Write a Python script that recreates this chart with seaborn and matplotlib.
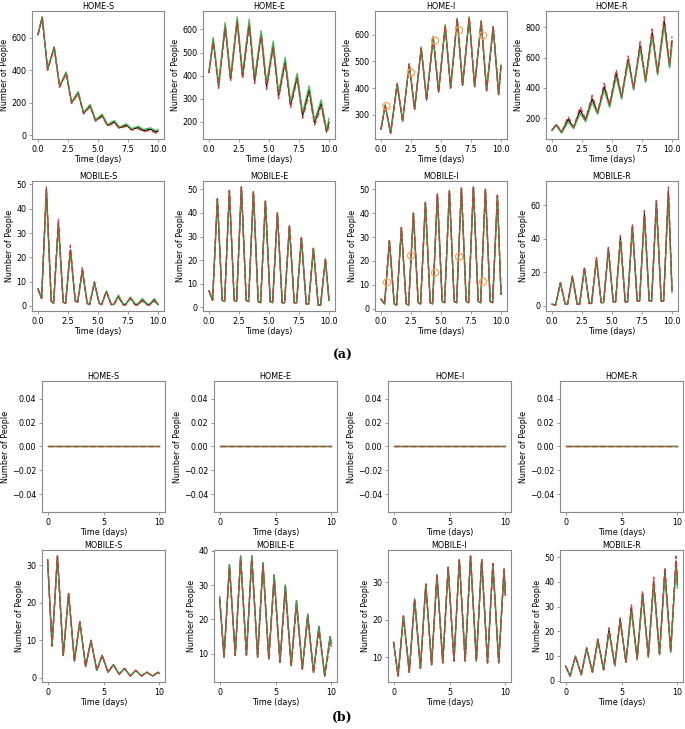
# SEIR-style HOME / MOBILE compartments, two scenarios (a) and (b)
import matplotlib
matplotlib.use("Agg")
import matplotlib.pyplot as plt
import seaborn as sns

# ---------------- data ----------------
# (a) home compartments: peaks / troughs
t_home_a = [0, 0.35, 0.8, 1.35, 1.8, 2.35, 2.8, 3.35, 3.8, 4.35, 4.8, 5.35, 5.8,
            6.35, 6.8, 7.35, 7.8, 8.35, 8.8, 9.35, 9.8, 10]

hs_k = [620, 728, 405, 542, 300, 385, 200, 262, 135, 182, 90, 122, 60, 82, 45, 62, 35, 47, 27, 37, 20, 25]
hs_g = [620, 730, 410, 545, 305, 390, 205, 270, 140, 190, 95, 130, 65, 90, 50, 70, 40, 55, 35, 45, 28, 35]
hs_r = [620, 725, 400, 540, 295, 380, 195, 255, 130, 175, 85, 115, 55, 75, 40, 55, 30, 40, 20, 30, 12, 15]

he_k = [415, 555, 355, 618, 385, 642, 398, 630, 378, 582, 352, 535, 312, 465, 272, 398, 228, 338, 195, 280, 158, 198]
he_g = [420, 565, 365, 630, 395, 655, 410, 645, 390, 595, 365, 550, 325, 480, 285, 410, 240, 355, 205, 295, 165, 215]
he_r = [410, 545, 345, 605, 375, 630, 385, 615, 365, 570, 340, 520, 300, 450, 260, 385, 215, 320, 185, 265, 150, 180]

hi_k = [245, 335, 230, 415, 275, 490, 320, 550, 355, 590, 385, 635, 400, 660, 410, 665, 405, 650, 390, 630, 375, 485]
hi_g = [245, 338, 230, 418, 275, 492, 322, 555, 358, 595, 390, 638, 403, 662, 412, 668, 408, 655, 395, 632, 378, 485]
hi_circ_t = [0.45, 2.5, 4.5, 6.5, 8.5]
hi_circ_v = [332, 458, 578, 617, 598]

hr_k = [120, 155, 105, 192, 135, 252, 185, 328, 232, 408, 280, 495, 335, 590, 392, 682, 445, 765, 495, 840, 542, 710]
hr_g = [120, 150, 100, 175, 130, 230, 175, 305, 225, 385, 270, 470, 325, 570, 385, 660, 435, 740, 485, 810, 530, 680]
hr_r = [120, 160, 110, 210, 140, 275, 195, 350, 240, 430, 290, 520, 345, 610, 400, 705, 455, 790, 505, 870, 555, 740]

# (a) mobile compartments: low / peak / low per day
t_mob_a = [0, 0.3, 0.7, 1.1, 1.3, 1.7, 2.1, 2.3, 2.7, 3.1, 3.3, 3.7, 4.1, 4.3, 4.7,
           5.1, 5.3, 5.7, 6.1, 6.3, 6.7, 7.1, 7.3, 7.7, 8.1, 8.3, 8.7, 9.1, 9.3, 9.7, 10]

ms_k = [7, 3, 48, 2, 1, 34, 1.5, 1, 23, 2, 1.5, 14.5, 1, 0.5, 9.5, 1, 0.5, 6, 0.5, 0.5, 4,
        0.5, 0.5, 3.5, 0.5, 0.5, 2.5, 0.5, 0.5, 2.5, 0.5]
ms_g = [7, 3, 47, 2, 1, 33, 1.5, 1, 22, 2.5, 1.5, 14, 1, 0.5, 9.5, 1, 0.5, 6, 0.8, 0.5, 4.5,
        0.8, 0.8, 3.5, 0.8, 0.8, 3, 0.8, 0.8, 3, 0.8]
ms_r = [7, 3, 49, 2, 1, 36, 1.5, 1, 25, 2, 1.5, 16, 1, 0.5, 10, 1, 0.5, 6, 0.5, 0.3, 3.5,
        0.3, 0.3, 3, 0.3, 0.3, 2, 0.3, 0.3, 2, 0.3]

me_k = [7, 3, 46, 3, 2.5, 49.5, 3, 2.5, 51, 3, 2.5, 49, 2.5, 2, 45, 2.5, 2, 40, 2, 2, 34.5,
        2, 2, 29.5, 1.5, 1.5, 25, 1, 1, 20.5, 3]

mi_k = [4, 2, 28.5, 2, 1.5, 34, 2, 1.5, 40, 2.5, 2, 44.5, 2.5, 2, 48, 3, 2.5, 49.5, 3, 2.5, 50.5,
        3, 2.5, 51, 3, 2.5, 50, 3, 2.5, 47.5, 6]
mi_circ_t = [0.5, 2.5, 4.5, 6.5, 8.5]
mi_circ_v = [11, 22.2, 15, 21.7, 11.3]

mr_k = [1, 0.5, 13.8, 1, 1, 17.5, 1, 1, 22.5, 1.5, 1.5, 28, 2, 2, 34, 2.5, 2.5, 40.5, 2.5, 2.5, 47.5,
        3, 3, 55, 3, 3, 61.5, 3, 3, 68, 9]
mr_g = [1, 0.5, 13.5, 1, 1, 17, 1, 1, 22, 1.5, 1.5, 27.5, 2, 2, 33, 2.5, 2.5, 39, 2.5, 2.5, 46,
        3, 3, 52.5, 3, 3, 59, 3, 3, 64.5, 8]
mr_r = [1, 0.5, 14, 1, 1, 18, 1, 1, 23, 1.5, 1.5, 29, 2, 2, 35, 2.5, 2.5, 42, 2.5, 2.5, 49,
        3, 3, 57, 3, 3, 64, 3, 3, 71, 10]

# (b) home compartments are flat at zero
t_flat = [0, 10]
y_flat = [0, 0]

# (b) mobile compartments: peaks / troughs
t_mob_b = [0, 0.4, 0.88, 1.4, 1.88, 2.4, 2.88, 3.4, 3.88, 4.4, 4.88, 5.4, 5.88,
           6.4, 6.88, 7.4, 7.88, 8.4, 8.88, 9.4, 9.88, 10]

bs_k = [31.5, 8.5, 32.5, 6, 22.5, 4.5, 15, 3, 10, 2, 6, 1.5, 3.5, 1, 2.5, 0.5, 2, 0.5, 1.5, 0.5, 1.5, 1.2]

be_g = [26.5, 9, 36, 9.5, 38.5, 9.5, 38.5, 9, 36.5, 8.5, 33, 7.5, 30, 6.5, 25.5, 5.5, 21.5, 4.5, 18, 3.5, 15, 13]
be_r = [26, 9, 35, 9.5, 37.5, 9.5, 37.5, 9, 35.5, 8.5, 31, 7.5, 28, 6.5, 23.5, 5.5, 20, 4.5, 16.5, 3.5, 13, 12]

bi_k = [14, 5, 21, 6, 25.5, 7, 29.5, 8, 32, 8.5, 34, 9, 36, 9, 37, 9, 36, 8.5, 35, 8.5, 33.5, 26.5]

br_k = [6, 2, 10, 2.5, 13.2, 3.5, 16.5, 4.5, 20.5, 6.2, 24.8, 7.5, 29.5, 8.8, 35.2, 9.8, 40.2, 10.8, 44.5, 11.8, 48.5, 39]
br_g = [6, 2, 10, 2.5, 13, 3.5, 16, 4.5, 19.5, 6, 24, 7.5, 28, 8.5, 34, 9.5, 38.5, 10.5, 43, 11.5, 47, 37.5]
br_r = [6, 2, 10, 2.5, 13.5, 3.5, 17, 4.5, 21.5, 6.5, 25.5, 7.5, 31, 9, 36.5, 10, 42, 11, 46, 12, 50.5, 41]

titles = ["HOME-S", "HOME-E", "HOME-I", "HOME-R",
          "MOBILE-S", "MOBILE-E", "MOBILE-I", "MOBILE-R"]

# tick values shown on the y axes
yt_a_mob = [None, None, None, [0, 20, 40, 60]]
yt_b_mob = [[0, 10, 20, 30], [10, 20, 30, 40], [10, 20, 30], [0, 10, 20, 30, 40, 50]]
yt_b_home = [-0.04, -0.02, 0.0, 0.02, 0.04]

# ---------------- drawing ----------------
FS = 5.8
GREEN = "#45b54a"
RED = "#d03a2f"
SPINE = "#8a8a8a"


def panel(rect, t, black, green, red, title, xticks, circ=None, yticks=None):
    ax = fig.add_axes(rect)
    sns.lineplot(x=t, y=black, ax=ax, color="black", lw=0.9, estimator=None, sort=False)
    sns.lineplot(x=t, y=green, ax=ax, color=GREEN, lw=1.0, alpha=0.9, estimator=None, sort=False)
    sns.lineplot(x=t, y=red, ax=ax, color=RED, lw=1.0, ls=(0, (4, 2)), alpha=0.9,
                 estimator=None, sort=False)
    if circ is not None:
        ax.scatter(circ[0], circ[1], s=26, facecolors="none", edgecolors="#ffa152", lw=0.9, zorder=5)
    ax.set_title(title, fontsize=FS, pad=1.5)
    ax.set_xlabel("Time (days)", fontsize=FS, labelpad=1)
    ax.set_ylabel("Number of People", fontsize=FS, labelpad=1.5)
    ax.set_xticks(xticks)
    if yticks is not None:
        ax.set_yticks(yticks)
    ax.tick_params(labelsize=FS, length=2.5, width=0.6, pad=1.5, color=SPINE)
    for s in ax.spines.values():
        s.set_color(SPINE)
        s.set_linewidth(0.8)
    return ax


W, H = 685, 729
fig = plt.figure(figsize=(W / 100, H / 100), dpi=100)


def rect(left, top, right, bottom):
    return [left / W, 1 - bottom / H, (right - left) / W, (bottom - top) / H]


xt_a = [0, 2.5, 5, 7.5, 10]
xt_b = [0, 5, 10]

a_lefts = [32, 203, 375, 546]
a_w = 132
b_lefts = [42, 214, 388, 560]
b_w = 123

# (a) top row
a_home = [(hs_k, hs_g, hs_r, None), (he_k, he_g, he_r, None),
          (hi_k, hi_g, hi_k, (hi_circ_t, hi_circ_v)), (hr_k, hr_g, hr_r, None)]
for i, (k, g, r, c) in enumerate(a_home):
    panel(rect(a_lefts[i], 11, a_lefts[i] + a_w, 139), t_home_a, k, g, r, titles[i], xt_a, c)

a_mob = [(ms_k, ms_g, ms_r, None), (me_k, me_k, me_k, None),
         (mi_k, mi_k, mi_k, (mi_circ_t, mi_circ_v)), (mr_k, mr_g, mr_r, None)]
for i, (k, g, r, c) in enumerate(a_mob):
    panel(rect(a_lefts[i], 181, a_lefts[i] + a_w, 311), t_mob_a, k, g, r, titles[4 + i], xt_a, c,
          yt_a_mob[i])

fig.text(0.5, 1 - 355 / H, "(a)", ha="center", va="center", fontsize=9,
         fontweight="bold", family="DejaVu Serif")

# (b)
for i in range(4):
    ax = panel(rect(b_lefts[i], 381, b_lefts[i] + b_w, 512), t_flat, y_flat, y_flat, y_flat,
               titles[i], xt_b, yticks=yt_b_home)
    ax.set_ylim(-0.055, 0.055)

b_mob = [(bs_k, bs_k, bs_k), (be_g, be_g, be_r), (bi_k, bi_k, bi_k), (br_k, br_g, br_r)]
for i, (k, g, r) in enumerate(b_mob):
    panel(rect(b_lefts[i], 550, b_lefts[i] + b_w, 682), t_mob_b, k, g, r, titles[4 + i], xt_b,
          yticks=yt_b_mob[i])

fig.text(0.5, 1 - 717 / H, "(b)", ha="center", va="center", fontsize=9,
         fontweight="bold", family="DejaVu Serif")

fig.savefig("out.png", dpi=100)
